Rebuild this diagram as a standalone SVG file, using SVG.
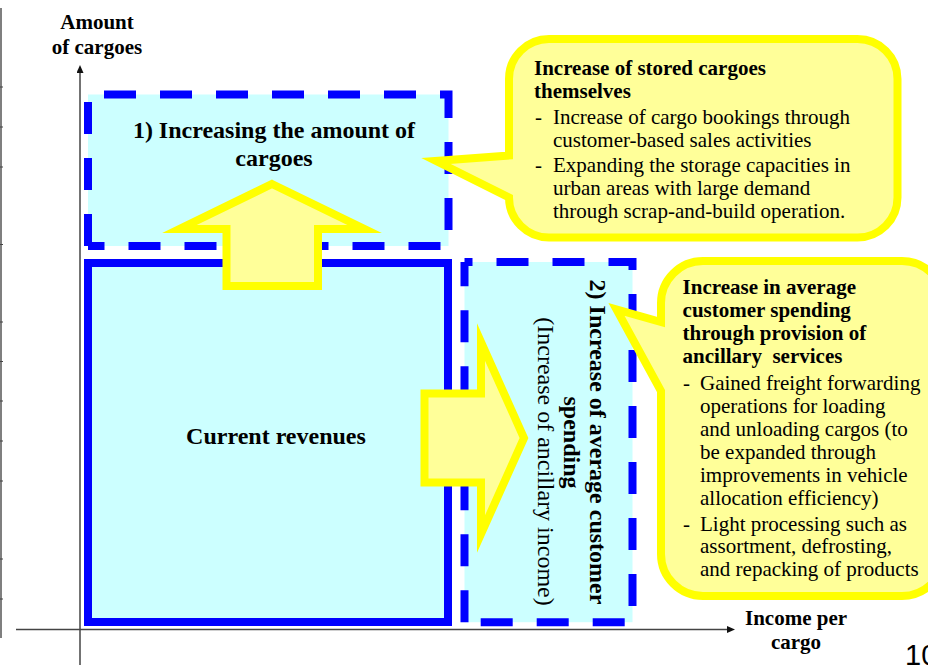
<svg xmlns="http://www.w3.org/2000/svg" width="928" height="665" viewBox="0 0 928 665">
<style>
text { font-family: "Liberation Serif", "Times New Roman", serif; fill: #000; }
.b { font-weight: bold; }
.lbl { font-size: 21px; font-weight: bold; text-anchor: middle; }
.ttl { font-size: 24px; font-weight: bold; text-anchor: middle; }
.co { font-size: 21px; }
.box { fill: #CCFFFF; stroke: none; }
.dash { fill: none; stroke: #0000FF; stroke-width: 8; stroke-dasharray: 32 24; stroke-linejoin: miter; }
.solid { fill: #CCFFFF; stroke: #0000FF; stroke-width: 8; }
.arrow { fill: #FFFF99; stroke: #FFFF00; stroke-width: 8; stroke-linejoin: miter; stroke-miterlimit: 10; }
.callout { fill: #FFFF99; stroke: #FFFF00; stroke-width: 8; stroke-linejoin: miter; stroke-miterlimit: 10; }
.axis { stroke: #444; stroke-width: 1.5; fill: none; }
.edge { stroke: #555; stroke-width: 1.5; fill: none; }
</style>
<defs>
<marker id="ah" markerUnits="userSpaceOnUse" markerWidth="8" markerHeight="7" viewBox="0 0 8 7" refX="1" refY="3.5" orient="auto">
<path d="M0,0 L8,3.5 L0,7 Z" fill="#111"/>
</marker>
</defs>

<g id="page-edge">
<line class="edge" x1="1" y1="8" x2="1" y2="638"/>
<path stroke="#444" stroke-width="1" d="M0,87H3M0,127H3M0,167H3M0,244.5H3M0,322H3M0,361.5H3M0,401H3M0,441H3M0,481H3M0,559H3M0,599H3"/>
</g>

<g id="connectors">
<line class="axis" x1="80" y1="665" x2="80" y2="72" marker-end="url(#ah)"/>
<line class="axis" x1="16" y1="629.5" x2="728" y2="629.5" marker-end="url(#ah)"/>
</g>

<g id="axis-y-label">
<text class="lbl" x="97" y="29">Amount</text>
<text class="lbl" x="97" y="54">of cargoes</text>
</g>
<g id="axis-x-label">
<text class="lbl" x="796" y="625">Income per</text>
<text class="lbl" x="796" y="649">cargo</text>
</g>

<g id="box-increase-amount">
<rect class="box" x="88" y="94.5" width="360.5" height="151.5"/>
<path class="dash" stroke-dashoffset="40" d="M88,94.5 H448.5 V246 H88"/>
<path class="dash" d="M88,246 V94.5"/>
<text class="ttl" x="274" y="138">1) Increasing the amount of</text>
<text class="ttl" x="274" y="166">cargoes</text>
</g>

<g id="box-current-revenues">
<rect class="solid" x="88" y="263" width="360" height="359"/>
<text class="ttl" x="276" y="443.5">Current revenues</text>
</g>

<g id="box-increase-spending">
<rect class="box" x="464.5" y="262" width="168" height="360.2"/>
<path class="dash" stroke-dashoffset="24" d="M464.5,262 H632.5 V622.2 H464.5"/>
<path class="dash" d="M464.5,622.2 V262"/>
<text class="ttl" transform="translate(590,442) rotate(90)">2) Increase of average customer</text>
<text class="ttl" transform="translate(564,442.5) rotate(90)">spending</text>
<text transform="translate(538,461.5) rotate(90)" style="font-size:24px;text-anchor:middle">(Increase of ancillary income)</text>
</g>

<g id="arrow-up">
<path class="arrow" d="M272,184 L364.5,229 L318,229 L318,286 L226.5,286 L226.5,229 L179.5,229 Z"/>
</g>

<g id="arrow-right">
<path class="arrow" d="M524,438 L481,534 L481,482.5 L424.5,482.5 L424.5,393.5 L481,393.5 L481,342 Z"/>
</g>

<g id="callout-stored-cargoes">
<path class="callout" d="M549,39 H857.5 A40,40 0 0 1 897.5,79 V197.5 A40,40 0 0 1 857.5,237.5 H549 A40,40 0 0 1 509,197.5 L436,161 L509,155.5 V79 A40,40 0 0 1 549,39 Z"/>
<text class="co b" x="534" y="75">Increase of stored cargoes</text>
<text class="co b" x="534" y="97.7">themselves</text>
<text class="co" x="535" y="124">-</text>
<text class="co" x="553" y="124">Increase of cargo bookings through</text>
<text class="co" x="553" y="146.7">customer-based sales activities</text>
<text class="co" x="535" y="172.3">-</text>
<text class="co" x="553" y="172.3">Expanding the storage capacities in</text>
<text class="co" x="553" y="195">urban areas with large demand</text>
<text class="co" x="553" y="218.3">through scrap-and-build operation.</text>
</g>

<g id="callout-ancillary-services">
<path class="callout" d="M703,261 H902 A42,42 0 0 1 944,303 V554 A42,42 0 0 1 902,596 H703 A42,42 0 0 1 661,554 V391 L616.5,309.5 L661,322 V303 A42,42 0 0 1 703,261 Z"/>
<text class="co b" x="682.6" y="294">Increase in average</text>
<text class="co b" x="682.6" y="317">customer spending</text>
<text class="co b" x="682.6" y="340">through provision of</text>
<text class="co b" x="682.6" y="363" xml:space="preserve">ancillary  services</text>
<text class="co" x="683" y="390">-</text>
<text class="co" x="700" y="390">Gained freight forwarding</text>
<text class="co" x="700" y="413">operations for loading</text>
<text class="co" x="700" y="436">and unloading cargos (to</text>
<text class="co" x="700" y="459">be expanded through</text>
<text class="co" x="700" y="481.5">improvements in vehicle</text>
<text class="co" x="700" y="504.5">allocation efficiency)</text>
<text class="co" x="683" y="530.5">-</text>
<text class="co" x="700" y="530.5">Light processing such as</text>
<text class="co" x="700" y="553">assortment, defrosting,</text>
<text class="co" x="700" y="576">and repacking of products</text>
</g>

<g id="page-number">
<text x="905" y="665" style="font-family:'Liberation Sans',Arial,sans-serif;font-size:29px">10</text>
</g>
</svg>
